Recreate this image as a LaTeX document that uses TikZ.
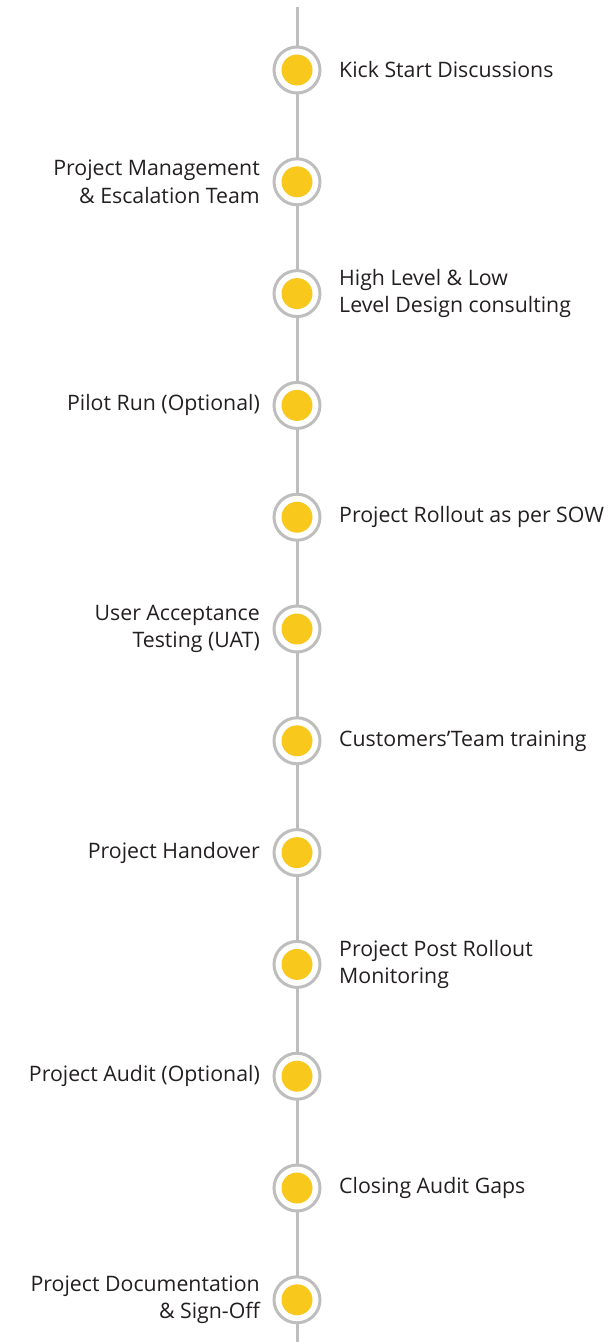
\documentclass[tikz,border=0pt]{standalone}
\usepackage{fontspec}
\setmainfont{Open Sans}
\usetikzlibrary{positioning}
\definecolor{ringgray}{HTML}{BEBEBE}
\definecolor{dotyellow}{HTML}{F9C81C}
\definecolor{textblack}{HTML}{231F20}

\begin{document}
\begin{tikzpicture}[x=1pt,y=-1pt,
  ring/.style={circle,draw=ringgray,line width=3pt,fill=white,minimum size=46pt,inner sep=0pt},
  dot/.style={circle,fill=dotyellow,minimum size=31pt,inner sep=0pt},
  lbl/.style={inner sep=0pt,text=textblack,font=\fontsize{21.3}{27.5}\selectfont},
  rlbl/.style={lbl,align=left,right=17.5pt of #1},
  llbl/.style={lbl,align=right,left=12.5pt of #1}]
  \useasboundingbox (0,0) rectangle (609,1342);
  % the spine
  \coordinate (top) at (297,7);
  \coordinate (bot) at (297,1342);
  \draw[ringgray,line width=3pt] (top) -- (bot);

  % milestones
  \node[ring] (s1) at (297,70) {};
  \node[ring] (s2) at (297,181.8) {};
  \node[ring] (s3) at (297,293.6) {};
  \node[ring] (s4) at (297,405.4) {};
  \node[ring] (s5) at (297,517.2) {};
  \node[ring] (s6) at (297,629) {};
  \node[ring] (s7) at (297,740.8) {};
  \node[ring] (s8) at (297,852.6) {};
  \node[ring] (s9) at (297,964.4) {};
  \node[ring] (s10) at (297,1076.2) {};
  \node[ring] (s11) at (297,1188) {};
  \node[ring] (s12) at (297,1299.8) {};
  \node[dot] at (s1) {};
  \node[dot] at (s2) {};
  \node[dot] at (s3) {};
  \node[dot] at (s4) {};
  \node[dot] at (s5) {};
  \node[dot] at (s6) {};
  \node[dot] at (s7) {};
  \node[dot] at (s8) {};
  \node[dot] at (s9) {};
  \node[dot] at (s10) {};
  \node[dot] at (s11) {};
  \node[dot] at (s12) {};

  % labels
  \node[rlbl=s1] (t1) {Kick Start Discussions};
  \node[llbl=s2] (t2) {Project Management\\ \& Escalation Team};
  \node[rlbl=s3] (t3) {High Level \& Low\\Level Design consulting};
  \node[llbl=s4] (t4) {Pilot Run (Optional)};
  \node[rlbl=s5] (t5) {Project Rollout as per SOW};
  \node[llbl=s6] (t6) {User Acceptance\\ Testing (UAT)};
  \node[rlbl=s7] (t7) {Customers’Team training};
  \node[llbl=s8] (t8) {Project Handover};
  \node[rlbl=s9] (t9) {Project Post Rollout\\Monitoring};
  \node[llbl=s10] (t10) {Project Audit (Optional)};
  \node[rlbl=s11] (t11) {Closing Audit Gaps};
  \node[llbl=s12] (t12) {Project Documentation\\ \& Sign-Off};
\end{tikzpicture}
\end{document}
